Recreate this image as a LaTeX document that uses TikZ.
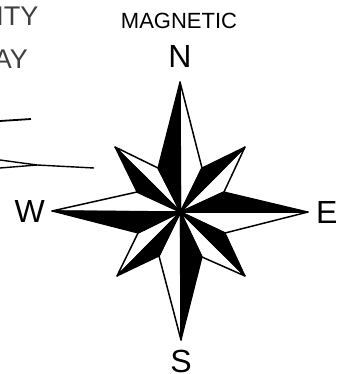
\documentclass[tikz,border=0pt]{standalone}
\usepackage{fontspec}
\setmainfont{Liberation Sans}
\usetikzlibrary{positioning}

\begin{document}
\begin{tikzpicture}[
    x=1pt, y=-1pt,
    node distance=8pt and 8pt,
    dirlabel/.style={inner sep=0pt, font=\fontsize{32}{32}\selectfont},
    toplabel/.style={inner sep=0pt, font=\fontsize{22}{22}\selectfont},
    cutlabel/.style={inner sep=0pt, text=black!75, font=\fontsize{27}{27}\selectfont},
    darkpart/.style={fill=black, draw=black, line width=1.2pt, line join=round},
    lightpart/.style={fill=white, draw=black, line width=1.5pt, line join=round},
    sketchline/.style={draw=black, line width=1.4pt}
]
\useasboundingbox (0,0) rectangle (344,374);
\clip (0,0) rectangle (344,374);

% star points
\coordinate (centre) at (180.5,212);
\coordinate (tipN) at (180,82);
\coordinate (tipE) at (308,212);
\coordinate (tipS) at (181,340);
\coordinate (tipW) at (52,211);
\coordinate (tipNE) at (245,147);
\coordinate (tipSE) at (245,276);
\coordinate (tipSW) at (117,276);
\coordinate (tipNW) at (115,147);
% notches between the points
\coordinate (nNNE) at (202,168);
\coordinate (nENE) at (224,192);
\coordinate (nESE) at (225,233);
\coordinate (nSSE) at (202,257);
\coordinate (nSSW) at (159,256);
\coordinate (nWSW) at (138,233);
\coordinate (nWNW) at (137,192);
\coordinate (nNNW) at (158,168);

% white halves
\draw[lightpart] (centre) -- (tipN) -- (nNNE) -- cycle;
\draw[lightpart] (centre) -- (tipE) -- (nESE) -- cycle;
\draw[lightpart] (centre) -- (tipS) -- (nSSW) -- cycle;
\draw[lightpart] (centre) -- (tipW) -- (nWNW) -- cycle;
\draw[lightpart] (centre) -- (tipNE) -- (nENE) -- cycle;
\draw[lightpart] (centre) -- (tipSE) -- (nSSE) -- cycle;
\draw[lightpart] (centre) -- (tipSW) -- (nWSW) -- cycle;
\draw[lightpart] (centre) -- (tipNW) -- (nNNW) -- cycle;
% black halves
\draw[darkpart] (centre) -- (tipN) -- (nNNW) -- cycle;
\draw[darkpart] (centre) -- (tipE) -- (nENE) -- cycle;
\draw[darkpart] (centre) -- (tipS) -- (nSSE) -- cycle;
\draw[darkpart] (centre) -- (tipW) -- (nWSW) -- cycle;
\draw[darkpart] (centre) -- (tipNE) -- (nNNE) -- cycle;
\draw[darkpart] (centre) -- (tipSE) -- (nESE) -- cycle;
\draw[darkpart] (centre) -- (tipSW) -- (nSSW) -- cycle;
\draw[darkpart] (centre) -- (tipNW) -- (nWNW) -- cycle;

% labels
\node[dirlabel] (N) [above=14pt of tipN] {N};
\node[dirlabel] (E) [right=8pt of tipE] {E};
\node[dirlabel] (S) [below=9.5pt of tipS] {S};
\node[dirlabel] (W) [left=7pt of tipW] {W};
\node[toplabel] (magnetic) [above=17pt of N, xshift=-1pt] {MAGNETIC};
\node[cutlabel, anchor=east] (city) at (38.5,16) {ITY};
\node[cutlabel, anchor=east] (way) at (28,59) {AY};

% remains of the lines on the left
\coordinate (upperA) at (0,121);
\coordinate (upperB) at (31,119);
\coordinate (wedgeA) at (0,160);
\coordinate (wedgeB) at (0,168);
\coordinate (wedgeC) at (37,165);
\coordinate (wedgeD) at (94,168);
\draw[sketchline, line width=1.8pt] (upperA) -- (upperB);
\draw[sketchline] (wedgeA) -- (wedgeC) -- (wedgeD);
\draw[sketchline] (wedgeB) -- (wedgeC);
\end{tikzpicture}
\end{document}
